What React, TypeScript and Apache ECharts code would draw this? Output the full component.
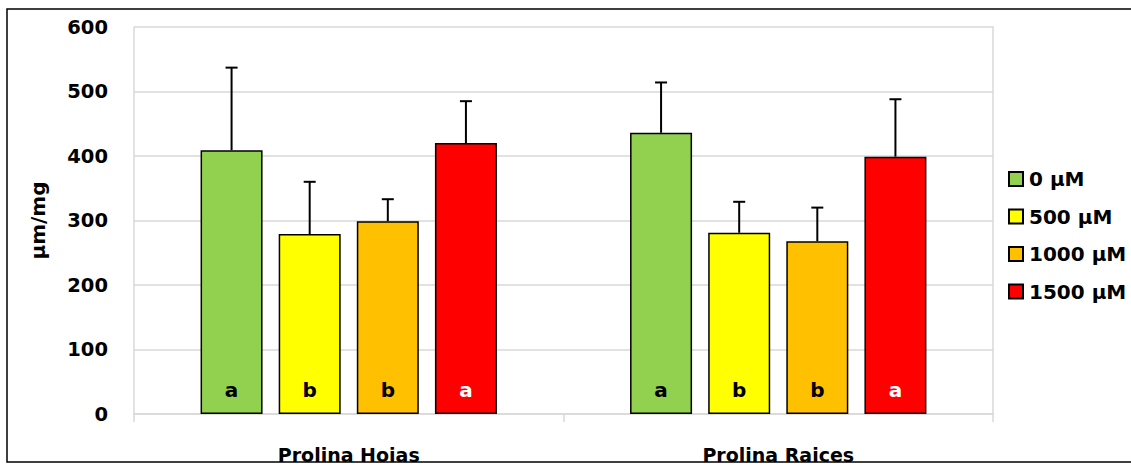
import React, { useEffect, useRef } from "react";
import * as echarts from "echarts";

const categories = ["Prolina Hojas", "Prolina Raices"];
const seriesNames = ["0 μM", "500 μM", "1000 μM", "1500 μM"];
const colors = ["#92d050", "#ffff00", "#ffc000", "#ff0000"];
const values0 = [409, 436];
const values500 = [279, 281];
const values1000 = [299, 268];
const values1500 = [420, 399];
const errors0 = [128, 78];
const errors500 = [81, 48];
const errors1000 = [34, 52];
const errors1500 = [65, 89];
const letters0 = ["a", "a"];
const letters500 = ["b", "b"];
const letters1000 = ["b", "b"];
const letters1500 = ["a", "a"];
const yTicks = [0, 100, 200, 300, 400, 500, 600];

const FONT = "DejaVu Sans";
const BAR_W = 62;
const BAR_GAP = 0.26;

export default function App() {
  const ref = useRef<HTMLDivElement>(null);
  useEffect(() => {
    if (!ref.current) return;
    const chart = echarts.init(ref.current, undefined, { renderer: "svg" });
    const values = [values0, values500, values1000, values1500];
    const errors = [errors0, errors500, errors1000, errors1500];
    const letters = [letters0, letters500, letters1000, letters1500];

    const errData: number[][] = [];
    values.forEach((vals, s) => {
      vals.forEach((v, c) => errData.push([c, s, v, errors[s][c]]));
    });

    const barSeries = values.map((vals, s) => ({
      type: "bar",
      name: seriesNames[s],
      data: vals,
      barWidth: BAR_W,
      barGap: BAR_GAP * 100 + "%",
      itemStyle: { color: colors[s], borderColor: "#000", borderWidth: 1.5 },
      label: {
        show: true,
        position: "insideBottom",
        distance: 14,
        formatter: (p: any) => letters[s][p.dataIndex],
        color: s === 3 ? "#fff" : "#000",
        fontFamily: FONT,
        fontWeight: "bold",
        fontSize: 20,
      },
      z: 2,
    }));

    const step = BAR_W * (1 + BAR_GAP);

    chart.setOption({
      animation: false,
      grid: { left: 134, right: 138, top: 27, bottom: 51, containLabel: false },
      legend: {
        orient: "vertical",
        left: 1008,
        top: 169,
        padding: 0,
        itemWidth: 14,
        itemHeight: 14,
        itemGap: 17.5,
        icon: "rect",
        data: seriesNames,
        textStyle: { fontFamily: FONT, fontWeight: "bold", fontSize: 20, color: "#000", padding: [0, 0, 0, 1] },
      },
      xAxis: {
        type: "category",
        data: categories,
        axisLine: { lineStyle: { color: "#d9d9d9", width: 1.5 } },
        axisTick: { show: true, length: 8, lineStyle: { color: "#d9d9d9", width: 1.5 } },
        axisLabel: {
          margin: 31,
          fontFamily: FONT,
          fontWeight: "bold",
          fontSize: 19,
          color: "#000",
        },
      },
      yAxis: [
        {
          type: "value",
          min: 0,
          max: 600,
          interval: 100,
          name: "μm/mg",
          nameLocation: "middle",
          nameGap: 86,
          nameTextStyle: { fontFamily: FONT, fontWeight: "bold", fontSize: 20, color: "#000" },
          axisLine: { show: true, lineStyle: { color: "#d9d9d9", width: 1.5 } },
          axisTick: { show: false },
          axisLabel: {
            margin: 26,
            fontFamily: FONT,
            fontWeight: "bold",
            fontSize: 19.5,
            color: "#000",
            formatter: (v: number) => (yTicks.includes(v) ? String(v) : ""),
          },
          splitLine: { lineStyle: { color: "#d9d9d9", width: 1.5 } },
        },
        {
          type: "value",
          min: 0,
          max: 600,
          interval: 100,
          position: "right",
          axisLine: { show: true, lineStyle: { color: "#d9d9d9", width: 1.5 } },
          axisTick: { show: false },
          axisLabel: { show: false },
          splitLine: { show: false },
        },
      ],
      series: [
        ...barSeries,
        {
          type: "custom",
          name: "err",
          data: errData,
          z: 5,
          silent: true,
          renderItem: (params: any, api: any) => {
            const c = api.value(0);
            const s = api.value(1);
            const v = api.value(2);
            const e = api.value(3);
            const base = api.coord([c, v]);
            const top = api.coord([c, v + e]);
            const x = base[0] + (s - 1.5) * step;
            const style = { stroke: "#000", lineWidth: 2 };
            return {
              type: "group",
              children: [
                { type: "line", shape: { x1: x, y1: base[1], x2: x, y2: top[1] }, style },
                { type: "line", shape: { x1: x - 6, y1: top[1], x2: x + 6, y2: top[1] }, style },
              ],
            };
          },
        },
      ],
      graphic: [
        {
          type: "rect",
          z: 100,
          shape: { x: 0, y: 462, width: 1131, height: 10 },
          style: { fill: "#fff" },
        },
        {
          type: "rect",
          z: 101,
          shape: { x: 7, y: 9, width: 1140, height: 453 },
          style: { fill: "none", stroke: "#000", lineWidth: 1.5 },
        },
      ],
    });
    return () => chart.dispose();
  }, []);
  return (
    <div
      ref={ref}
      style={{ position: "fixed", left: 0, top: 0, width: 1131, height: 465, background: "#fff" }}
    />
  );
}
